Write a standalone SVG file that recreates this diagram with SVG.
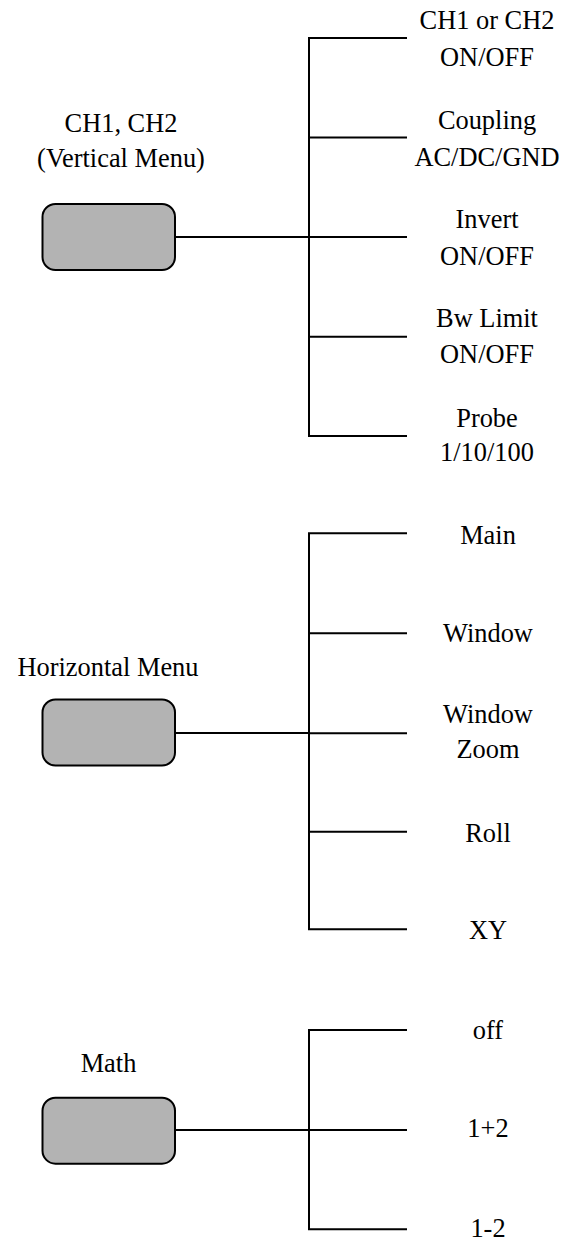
<svg xmlns="http://www.w3.org/2000/svg" width="564" height="1241" viewBox="0 0 564 1241">
<style>
text{font-family:'Liberation Serif','Tinos','Times New Roman','Times','Nimbus Roman','DejaVu Serif',serif;font-size:26.4px;fill:#000;text-anchor:middle}
.box{fill:#b3b3b3;stroke:#000;stroke-width:2}
.ln{fill:none;stroke:#000;stroke-width:2}
</style>
<rect width="564" height="1241" fill="#fff"/>
<g id="connectors">
<path class="ln" d="M407,38 H309 V436 H407 M309,137.5 H407 M309,237 H407 M309,336.7 H407 M175,237 H309"/>
<path class="ln" d="M407,533.3 H309 V929.3 H407 M309,633.3 H407 M309,733.3 H407 M309,831.7 H407 M175,733 H309"/>
<path class="ln" d="M407,1030 H309 V1229.3 H407 M309,1130 H407 M175,1130 H309"/>
</g>
<g id="vertical-menu">
<text x="121" y="132">CH1, CH2</text>
<text x="121" y="167">(Vertical Menu)</text>
<rect class="box" x="42.5" y="204" width="132.5" height="66" rx="13"/>
</g>
<g id="ch-onoff"><text x="487" y="28.5">CH1 or CH2</text><text x="487" y="65.7">ON/OFF</text></g>
<g id="coupling"><text x="487" y="129">Coupling</text><text x="487" y="166">AC/DC/GND</text></g>
<g id="invert"><text x="487" y="228.3">Invert</text><text x="487" y="265">ON/OFF</text></g>
<g id="bwlimit"><text x="487" y="327.3">Bw Limit</text><text x="487" y="362.7">ON/OFF</text></g>
<g id="probe"><text x="487" y="427">Probe</text><text x="487" y="461">1/10/100</text></g>
<g id="horizontal-menu">
<text x="108" y="675.7">Horizontal Menu</text>
<rect class="box" x="42.5" y="699.5" width="132.5" height="66" rx="13"/>
</g>
<g id="main"><text x="488" y="544.3">Main</text></g>
<g id="window"><text x="488" y="641.7">Window</text></g>
<g id="window-zoom"><text x="488" y="722.7">Window</text><text x="488" y="758.3">Zoom</text></g>
<g id="roll"><text x="488" y="842.3">Roll</text></g>
<g id="xy"><text x="488" y="939.3">XY</text></g>
<g id="math">
<text x="108.5" y="1071.7">Math</text>
<rect class="box" x="42.5" y="1097.7" width="132.5" height="66" rx="13"/>
</g>
<g id="off"><text x="488" y="1039.3">off</text></g>
<g id="sum"><text x="488" y="1137.3">1+2</text></g>
<g id="diff"><text x="488" y="1237">1-2</text></g>
</svg>
